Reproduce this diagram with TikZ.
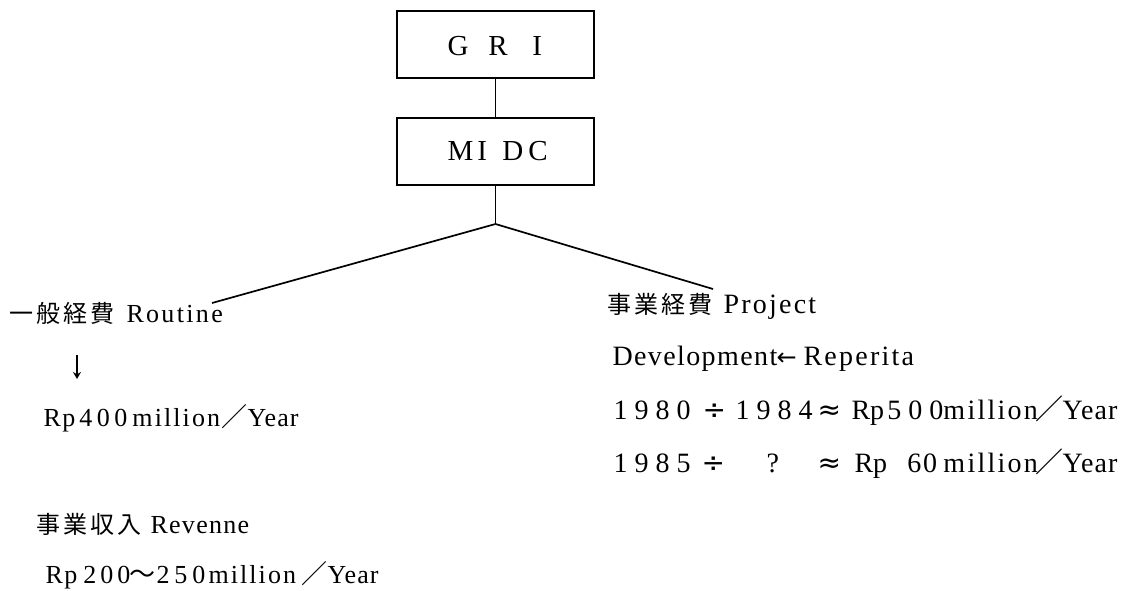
\documentclass[tikz,border=0pt]{standalone}
\usepackage{fontspec}
\usetikzlibrary{arrows.meta}
\setmainfont{Liberation Serif}
\newfontfamily\cjk{Noto Sans CJK JP}
\newfontfamily\sym{DejaVu Sans}
\newcommand{\pc}[3][0]{\rlap{\hspace{#2pt}\addfontfeature{LetterSpace=#1}#3}}
\newcommand{\kj}[2]{\rlap{\hspace{#1pt}\cjk\fontsize{24}{24}\selectfont\addfontfeature{LetterSpace=12}#2}}
\tikzset{
 x=1pt,y=-1pt,
 orgbox/.style={draw,line width=2pt,minimum width=197pt,minimum height=67pt,inner sep=0pt},
 boxtxt/.style={anchor=base west,inner sep=0pt,outer sep=0pt,font=\fontsize{29}{29}\selectfont},
 ltxt/.style={anchor=base west,inner sep=0pt,outer sep=0pt,font=\fontsize{26}{26}\selectfont},
 rtxt/.style={anchor=base west,inner sep=0pt,outer sep=0pt,font=\fontsize{28}{28}\selectfont},
 conn/.style={line width=1.7pt}
}
\begin{document}
\begin{tikzpicture}
\useasboundingbox (0,0) rectangle (1126,590);
\node[orgbox] (gri) at (495.5,44.5) {};
\node[orgbox] (midc) at (495.5,151.5) {};
\node[boxtxt] (gritxt) at (447,55) {\pc{0}{G}\pc{41}{R}\pc{85}{I}};
\node[boxtxt] (midctxt) at (447,160) {\pc{0}{M}\pc{30}{I}\pc{55}{D}\pc{81}{C}};
\coordinate (fork) at (495.5,224);
\coordinate (leftend) at (212,303);
\coordinate (rightend) at (713,289);
\draw[conn] (gri) -- (midc);
\draw[conn] (midc) -- (fork);
\draw[conn] (fork) -- (leftend);
\draw[conn] (fork) -- (rightend);
\node[ltxt] (routine) at (9,322) {\kj{0}{一般経費}\pc[9]{117}{Routine}};
\coordinate (astart) at (77,355);
\coordinate (aend) at (77,379);
\draw[line width=1.5pt,-{Stealth[length=7pt,width=8pt]}] (astart) -- (aend);
\node[ltxt] (rp) at (43,426) {\pc[6]{0}{Rp}\pc[17]{36}{400}\pc[8]{89}{million}\pc{178}{\cjk ／}\pc[4]{204}{Year}};
\node[ltxt] (rev) at (36,533) {\kj{0}{事業収入}\pc[5]{114}{Revenne}};
\node[ltxt] (rp2) at (45,583) {\pc[6]{0}{Rp}\pc[15]{38}{200}\pc{84}{\cjk ～}\pc[19]{111}{250}\pc[8]{163}{million}\pc{256}{\cjk ／}\pc[4]{282}{Year}};
\node[rtxt] (proj) at (607,313) {\kj{0}{事業経費}\pc[8]{116}{Project}};
\node[rtxt] (dev) at (612,365) {\pc[5]{0}{Development}\pc{164}{\sym\fontsize{24}{24}\selectfont ←}\pc[8]{191}{Reperita}};
\node[rtxt] (y80) at (613,419) {\pc[25]{0}{1980}\pc{89}{\sym ÷}\pc[25]{122}{1984}\pc{204}{\sym ≈}\pc{238}{Rp}\pc[25]{274}{500}\pc[8]{330}{million}\pc{422}{\cjk ／}\pc[4]{449}{Year}};
\node[rtxt] (y85) at (613,472) {\pc[25]{0}{1985}\pc{88}{\sym ÷}\pc{153}{?}\pc{204}{\sym ≈}\pc{241}{Rp}\pc[6]{294}{60}\pc[8]{330}{million}\pc{422}{\cjk ／}\pc[4]{449}{Year}};
\end{tikzpicture}
\end{document}
